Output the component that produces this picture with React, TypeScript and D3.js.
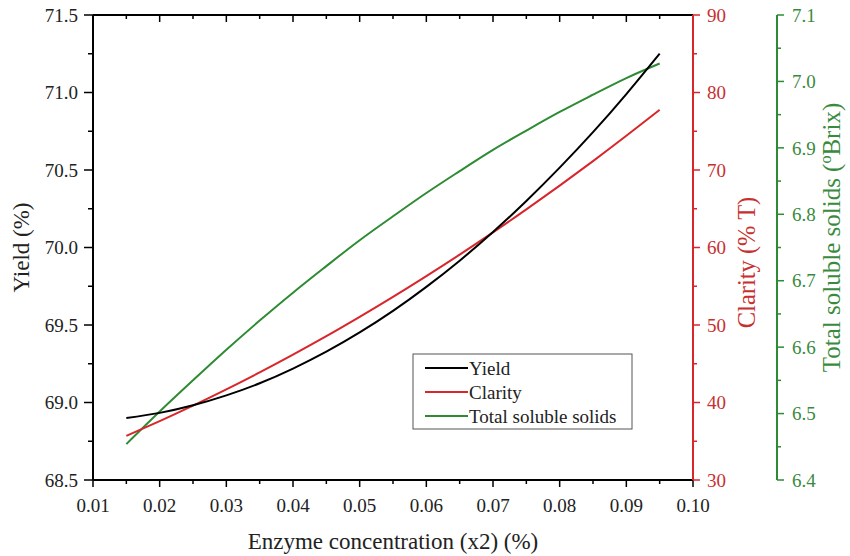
import React from "react";
import * as d3 from "d3";

const xValues = [0.015, 0.02, 0.025, 0.03, 0.035, 0.04, 0.045, 0.05, 0.055, 0.06, 0.065, 0.07, 0.075, 0.08, 0.085, 0.09, 0.095];
const yieldValues = [68.900, 68.933, 68.982, 69.046, 69.124, 69.219, 69.328, 69.452, 69.591, 69.746, 69.915, 70.100, 70.300, 70.515, 70.744, 70.990, 71.251];
const clarityValues = [35.7, 37.6, 39.6, 41.7, 43.89, 46.18, 48.56, 51.05, 53.63, 56.31, 59.08, 61.95, 64.92, 67.99, 71.15, 74.41, 77.76];
const tssValues = [6.454, 6.503, 6.550, 6.596, 6.640, 6.682, 6.722, 6.761, 6.797, 6.832, 6.865, 6.897, 6.926, 6.954, 6.980, 7.005, 7.027];

const xTicks = [0.01, 0.02, 0.03, 0.04, 0.05, 0.06, 0.07, 0.08, 0.09, 0.10];
const yieldTicks = [68.5, 69.0, 69.5, 70.0, 70.5, 71.0, 71.5];
const clarityTicks = [30, 40, 50, 60, 70, 80, 90];
const tssTicks = [6.4, 6.5, 6.6, 6.7, 6.8, 6.9, 7.0, 7.1];

const legendItems = ["Yield", "Clarity", "Total soluble solids"];

const BLACK = "#000";
const RED = "#d8262b";
const RED_TEXT = "#c8302f";
const GREEN = "#2e8b34";
const GREEN_TEXT = "#3a8a3e";
const FONT = "'Liberation Serif', 'Times New Roman', serif";

export default function App() {
  const left = 93, right = 693, top = 15, bottom = 480;
  const greenX = 777;
  const x = d3.scaleLinear().domain([0.01, 0.10]).range([left, right]);
  const yY = d3.scaleLinear().domain([68.5, 71.5]).range([bottom, top]);
  const yC = d3.scaleLinear().domain([30, 90]).range([bottom, top]);
  const yT = d3.scaleLinear().domain([6.4, 7.1]).range([bottom, top]);

  const mk = (vals: number[], ys: d3.ScaleLinear<number, number>) =>
    d3.line<number>().x((_, i) => x(xValues[i])).y((v) => ys(v)).curve(d3.curveNatural)(vals) || "";

  const xMinor = d3.range(0.015, 0.1, 0.01);
  const yMinor = d3.range(68.75, 71.5, 0.5);
  const cMinor = d3.range(35, 90, 10);
  const tMinor = d3.range(6.45, 7.1, 0.1);

  const colors = [BLACK, RED, GREEN];
  const lgX = 413, lgY = 354, lgW = 219, lgH = 75;

  return (
    <svg width={850} height={556} style={{ position: "absolute", left: 0, top: 0, background: "#fff" }} fontFamily={FONT}>
      <rect x={0} y={0} width={850} height={556} fill="#fff" />
      {/* curves */}
      <path d={mk(tssValues, yT)} fill="none" stroke={GREEN} strokeWidth={2} />
      <path d={mk(clarityValues, yC)} fill="none" stroke={RED} strokeWidth={2} />
      <path d={mk(yieldValues, yY)} fill="none" stroke={BLACK} strokeWidth={2} />

      {/* bottom axis */}
      <line x1={left} x2={right} y1={bottom} y2={bottom} stroke={BLACK} strokeWidth={2} />
      {xTicks.map((t) => (
        <g key={"xb" + t}>
          <line x1={x(t)} x2={x(t)} y1={bottom} y2={bottom + 7} stroke={BLACK} strokeWidth={1.5} />
          <text x={x(t)} y={bottom + 32} textAnchor="middle" fontSize={19} fill="#222">{t.toFixed(2)}</text>
        </g>
      ))}
      {xMinor.map((t) => (
        <line key={"xbm" + t} x1={x(t)} x2={x(t)} y1={bottom} y2={bottom + 4} stroke={BLACK} strokeWidth={1.5} />
      ))}
      {/* top axis */}
      <line x1={left} x2={right} y1={top} y2={top} stroke={BLACK} strokeWidth={2} />
      {xTicks.map((t) => (
        <line key={"xt" + t} x1={x(t)} x2={x(t)} y1={top} y2={top + 7} stroke={BLACK} strokeWidth={1.5} />
      ))}
      {xMinor.map((t) => (
        <line key={"xtm" + t} x1={x(t)} x2={x(t)} y1={top} y2={top + 4} stroke={BLACK} strokeWidth={1.5} />
      ))}
      <text x={(left + right) / 2} y={549} textAnchor="middle" fontSize={23} fill="#222">Enzyme concentration (x2) (%)</text>

      {/* left axis */}
      <line x1={left} x2={left} y1={top} y2={bottom} stroke={BLACK} strokeWidth={2} />
      {yieldTicks.map((t) => (
        <g key={"yl" + t}>
          <line x1={left - 9} x2={left} y1={yY(t)} y2={yY(t)} stroke={BLACK} strokeWidth={1.5} />
          <text x={78} y={yY(t)} dy="0.35em" textAnchor="end" fontSize={19} fill="#222">{t.toFixed(1)}</text>
        </g>
      ))}
      {yMinor.map((t) => (
        <line key={"ylm" + t} x1={left - 5} x2={left} y1={yY(t)} y2={yY(t)} stroke={BLACK} strokeWidth={1.5} />
      ))}
      <text transform={`translate(29,${(top + bottom) / 2}) rotate(-90)`} textAnchor="middle" fontSize={23} fill="#222">Yield (%)</text>

      {/* red axis */}
      <line x1={right} x2={right} y1={top} y2={bottom} stroke={RED} strokeWidth={2} />
      {clarityTicks.map((t) => (
        <g key={"c" + t}>
          <line x1={right} x2={right + 7} y1={yC(t)} y2={yC(t)} stroke={RED} strokeWidth={1.5} />
          <text x={right + 14} y={yC(t)} dy="0.35em" textAnchor="start" fontSize={19} fill={RED_TEXT}>{t}</text>
        </g>
      ))}
      {cMinor.map((t) => (
        <line key={"cm" + t} x1={right} x2={right + 4} y1={yC(t)} y2={yC(t)} stroke={RED} strokeWidth={1.5} />
      ))}
      <text transform={`translate(755,${(top + bottom) / 2 + 15}) rotate(-90)`} textAnchor="middle" fontSize={24.5} fill={RED_TEXT}>Clarity (% T)</text>

      {/* green axis */}
      <line x1={greenX} x2={greenX} y1={top} y2={bottom} stroke={GREEN} strokeWidth={2} />
      {tssTicks.map((t) => (
        <g key={"t" + t}>
          <line x1={greenX} x2={greenX + 7} y1={yT(t)} y2={yT(t)} stroke={GREEN} strokeWidth={1.5} />
          <text x={greenX + 15} y={yT(t)} dy="0.35em" textAnchor="start" fontSize={19} fill={GREEN_TEXT}>{t.toFixed(1)}</text>
        </g>
      ))}
      {tMinor.map((t) => (
        <line key={"tm" + t} x1={greenX} x2={greenX + 4} y1={yT(t)} y2={yT(t)} stroke={GREEN} strokeWidth={1.5} />
      ))}
      <text transform={`translate(840,${(top + bottom) / 2 - 10}) rotate(-90)`} textAnchor="middle" fontSize={25} fill={GREEN_TEXT}>
        Total soluble solids (<tspan fontSize={16} dy={-9}>o</tspan><tspan dy={9}>Brix)</tspan>
      </text>

      {/* legend */}
      <rect x={lgX} y={lgY} width={lgW} height={lgH} fill="#fff" stroke="#555" strokeWidth={1} />
      {legendItems.map((name, i) => {
        const ly = lgY + 14 + i * 24;
        return (
          <g key={name}>
            <line x1={lgX + 12} x2={lgX + 55} y1={ly} y2={ly} stroke={colors[i]} strokeWidth={2} />
            <text x={lgX + 56} y={ly} dy="0.35em" fontSize={19} fill="#222">{name}</text>
          </g>
        );
      })}
    </svg>
  );
}
